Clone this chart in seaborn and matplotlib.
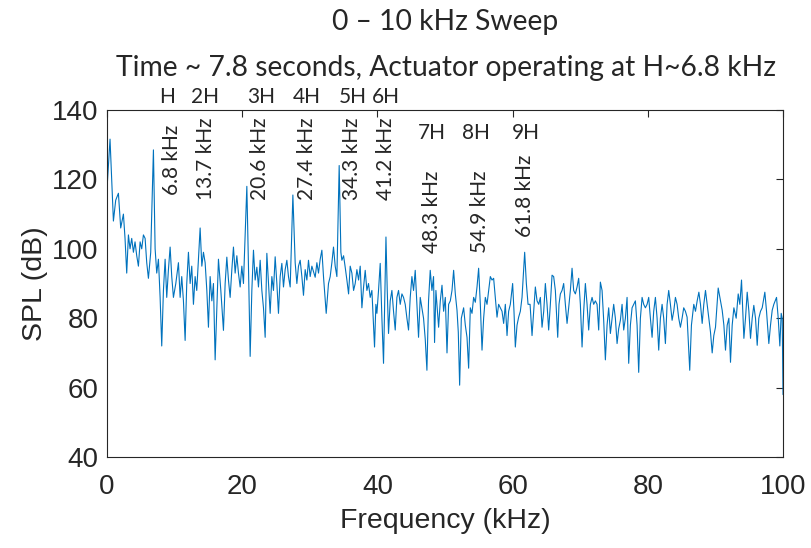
import numpy as np
import pandas as pd
import seaborn as sns
import matplotlib.pyplot as plt

# spectrum (frequency in kHz, SPL in dB)
freq_khz = [
    0.00, 0.44, 0.94, 1.28, 1.68, 2.02, 2.42, 2.66, 2.91, 3.16, 3.40, 3.65, 3.90, 4.14, 4.39, 4.64,
    4.89, 5.13, 5.38, 5.63, 5.87, 6.12, 6.46, 6.86, 7.11, 7.35, 7.60, 7.85, 8.09, 8.34, 8.59, 8.83,
    9.08, 9.33, 9.57, 9.82, 10.17, 10.56, 10.81, 11.05, 11.30, 11.55, 11.79, 12.04, 12.29, 12.53,
    12.78, 13.03, 13.27, 13.52, 13.77, 14.02, 14.26, 14.51, 14.76, 15.00, 15.25, 15.50, 15.74, 15.99,
    16.48, 16.83, 17.22, 17.47, 17.72, 17.96, 18.21, 18.46, 18.70, 18.95, 19.20, 19.44, 19.69, 19.94,
    20.18, 20.68, 20.92, 21.17, 21.42, 21.66, 21.91, 22.16, 22.40, 22.65, 22.90, 23.14, 23.39, 23.64,
    23.88, 24.13, 24.38, 24.62, 24.87, 25.12, 25.36, 25.61, 25.86, 26.10, 26.35, 26.60, 26.84, 27.09,
    27.49, 27.83, 28.08, 28.32, 28.57, 28.82, 29.06, 29.31, 29.56, 29.80, 30.05, 30.30, 30.79, 31.04,
    31.28, 31.53, 31.78, 32.02, 32.42, 32.76, 33.01, 33.26, 33.50, 33.75, 34.00, 34.34, 34.59, 34.74,
    34.99, 35.23, 35.48, 35.73, 35.97, 36.22, 36.47, 36.71, 36.96, 37.21, 37.45, 37.70, 37.95, 38.19,
    38.44, 38.68, 38.93, 39.18, 39.57, 39.77, 39.92, 40.16, 40.41, 40.66, 40.90, 41.26, 41.45, 41.64,
    41.89, 42.14, 42.38, 42.63, 42.88, 43.12, 43.37, 43.62, 43.86, 44.11, 44.36, 44.60, 44.85, 45.10,
    45.34, 45.59, 45.84, 46.08, 46.33, 46.58, 46.82, 47.07, 47.32, 47.56, 47.81, 48.06, 48.30, 48.45,
    48.65, 48.80, 49.05, 49.30, 49.55, 49.79, 50.04, 50.29, 50.53, 50.78, 51.03, 51.27, 51.52, 51.77,
    51.96, 52.16, 52.41, 52.75, 53.00, 53.25, 53.49, 53.74, 53.99, 54.23, 54.48, 54.73, 54.97, 55.22,
    55.47, 55.71, 55.96, 56.21, 56.45, 56.70, 56.95, 57.19, 57.44, 57.69, 57.93, 58.18, 58.43, 58.67,
    58.92, 59.17, 59.41, 59.66, 60.00, 60.20, 60.40, 60.65, 60.89, 61.14, 61.39, 61.78, 62.03, 62.28,
    62.58, 62.87, 63.11, 63.36, 63.61, 63.86, 64.10, 64.35, 64.60, 64.84, 65.09, 65.33, 65.58, 65.83,
    66.07, 66.32, 66.67, 66.86, 67.06, 67.31, 67.55, 67.80, 68.05, 68.29, 68.54, 68.79, 69.03, 69.28,
    69.53, 69.77, 70.02, 70.27, 70.51, 70.76, 71.01, 71.25, 71.50, 71.75, 71.99, 72.24, 72.49, 72.73,
    72.98, 73.23, 73.47, 73.72, 73.97, 74.21, 74.46, 74.71, 74.95, 75.20, 75.45, 75.69, 75.94, 76.19,
    76.43, 76.68, 76.93, 77.17, 77.42, 77.67, 77.91, 78.16, 78.41, 78.65, 78.90, 79.15, 79.39, 79.64,
    79.89, 80.13, 80.38, 80.63, 80.87, 81.12, 81.37, 81.61, 81.86, 82.11, 82.35, 82.60, 82.85, 83.09,
    83.34, 83.59, 83.83, 84.08, 84.33, 84.57, 84.82, 85.07, 85.31, 85.56, 85.81, 86.20, 86.45, 86.80,
    87.05, 87.30, 87.55, 87.79, 88.04, 88.28, 88.53, 88.78, 89.02, 89.27, 89.52, 89.76, 90.01, 90.41,
    90.75, 91.00, 91.25, 91.49, 91.74, 91.99, 92.23, 92.48, 92.73, 93.07, 93.37, 93.61, 93.86, 94.05,
    94.21, 94.45, 94.70, 94.95, 95.19, 95.44, 95.68, 95.93, 96.18, 96.42, 96.67, 96.92, 97.31, 97.56,
    97.90, 98.15, 98.40, 98.64, 99.04, 99.29, 99.53, 99.73, 99.88, 100.00,
]
spl_db = [
    117.5, 131.6, 108, 114, 116, 106, 110, 103, 93, 104, 100, 103, 99, 102, 98, 95,
    102, 100, 104, 103, 96, 91.5, 99, 128.5, 100, 93, 97, 86, 72, 88, 97, 86,
    94, 100.5, 92, 86, 90, 96, 86, 92, 85, 73.6, 90, 99, 90, 95,
    84, 92, 88, 97, 106, 95, 99, 96, 88, 77.4, 92, 85, 90, 68,
    97, 88, 76.5, 90, 97.6, 91, 86, 94, 100.5, 93, 98, 93, 89, 95,
    90, 118, 95, 69, 88, 99.6, 91, 94.7, 89, 96.7, 88, 83, 74.5, 98.7,
    90, 81.4, 92, 88, 97.7, 90, 81.4, 92, 95.8, 89, 94, 96.7, 92, 89,
    115.5, 96, 90, 95, 96.7, 92, 86.6, 94, 91, 96.7, 92, 95, 91.8, 96,
    93, 97, 99.6, 92, 81.4, 90, 92, 96, 100.5, 95, 92, 124, 99, 96.7,
    98, 94.7, 91, 87, 95, 93, 88, 90, 94, 91, 95, 83, 89, 93.8,
    88, 90, 86, 88, 71.7, 84, 81.4, 88, 95.8, 80, 67, 103.4, 88, 75.6,
    85, 88, 82, 76.6, 86, 88, 84, 87, 86, 84, 80, 76.6, 86, 92,
    88, 93.8, 84, 74.5, 86, 83, 80, 74, 65, 85, 93.8, 88, 92, 73,
    88, 84, 77.4, 85, 89.5, 82, 86, 70, 84, 85, 88, 93.8, 87, 82.3,
    76, 60.7, 80, 83, 78, 74.5, 65.6, 83, 81.4, 86, 84.6, 89, 94.4, 84,
    70.8, 80, 86, 84, 88, 92, 91, 91.5, 86, 80.3, 84, 83, 82, 78.5,
    84, 75, 82, 84, 90, 82, 71.7, 78, 80.3, 82, 86, 99, 90, 84,
    84, 75, 82, 89, 85, 84, 86, 77.4, 82, 90, 84, 76.6, 84, 92.4,
    92, 88, 74.5, 84, 87, 88, 90, 84, 78.5, 83, 88, 94.4, 88, 87,
    89, 91.5, 84, 71.7, 82, 90, 84, 76.6, 84, 86, 84, 85, 84, 76.6,
    90.4, 88, 79.4, 68, 78, 83, 75.6, 80, 84, 80, 72.7, 77, 79.4, 84,
    76.6, 80, 86, 67, 78, 83, 84, 85, 78, 64.4, 80, 86, 84, 83,
    84, 86, 80, 74.5, 82, 86, 80, 70.8, 80, 84, 80, 72.7, 84, 88,
    84, 79.4, 82, 86, 84, 80, 77.4, 80, 83, 82, 80.3, 65, 78, 84,
    82, 85, 87.5, 84, 78.5, 84, 88, 84, 80, 76, 70, 75, 77.4, 88.7,
    85, 82.3, 78, 70.8, 78, 80, 67.3, 78, 83, 80, 87, 84, 91, 82,
    74.2, 80, 87.5, 82, 74.2, 80, 83.7, 80, 72.2, 80, 82, 83, 87.5, 82,
    72.7, 78, 82.3, 84, 86, 80, 72, 81.4, 80, 58,
]

harmonic_names = ["H", "2H", "3H", "4H", "5H", "6H", "7H", "8H", "9H"]
harmonic_labels = ["6.8 kHz", "13.7 kHz", "20.6 kHz", "27.4 kHz", "34.3 kHz",
                   "41.2 kHz", "48.3 kHz", "54.9 kHz", "61.8 kHz"]

df = pd.DataFrame({"freq": freq_khz, "spl": spl_db})

sns.set_theme(style="white")
plt.rcParams["font.family"] = ["Liberation Sans", "DejaVu Sans"]

fig = plt.figure(figsize=(8.11, 5.48), dpi=100)
ax = fig.add_axes([0.132, 0.166, 0.8335, 0.6333])

sns.lineplot(data=df, x="freq", y="spl", estimator=None, sort=False,
             color="#0072BD", linewidth=0.8, ax=ax)

ax.set_xlim(0, 100)
ax.set_ylim(40, 140)
ax.set_xticks([0, 20, 40, 60, 80, 100])
ax.set_yticks([40, 60, 80, 100, 120, 140])
ax.tick_params(direction="in", length=5, width=0.8, colors="#262626",
               labelsize=20, top=True, right=True, pad=6)
ax.tick_params(axis="x", pad=12)
for s in ax.spines.values():
    s.set_color("#262626")
    s.set_linewidth(0.8)
ax.set_xlabel("Frequency (kHz)", fontsize=20.5, color="#262626", labelpad=6)
ax.set_ylabel("SPL (dB)", fontsize=20.5, color="#262626", labelpad=3)

# harmonic annotations (label positions in data units)
name_pos = [(8.9, 143.7), (14.5, 143.7), (22.8, 143.7), (29.6, 143.7), (36.3, 143.7),
            (41.3, 143.7), (48.1, 133.4), (54.6, 133.4), (62.0, 133.4)]
freq_pos = [(9.6, 125.6), (14.7, 126.0), (22.6, 125.9), (29.6, 125.9), (36.3, 125.9),
            (41.2, 125.9), (48.0, 110.6), (55.1, 110.6), (61.9, 115.2)]
calibri = ["Lato", "DejaVu Sans"]
for name, lab, (nx, ny), (fx, fy) in zip(harmonic_names, harmonic_labels, name_pos, freq_pos):
    ax.text(nx, ny, name, ha="center", va="center", fontsize=15,
            family=calibri, clip_on=False)
    ax.text(fx, fy, lab, ha="center", va="center", rotation=90, fontsize=15,
            family=calibri, clip_on=False)

fig.text(445 / 811, 1 - 22 / 548, "0 \u2013 10 kHz Sweep", ha="center", va="center",
         fontsize=20.3, family=calibri)
fig.text(446 / 811, 1 - 68 / 548, "Time ~ 7.8 seconds, Actuator operating at H~6.8 kHz",
         ha="center", va="center", fontsize=20.3, family=calibri)

fig.savefig("out.png", dpi=100)
